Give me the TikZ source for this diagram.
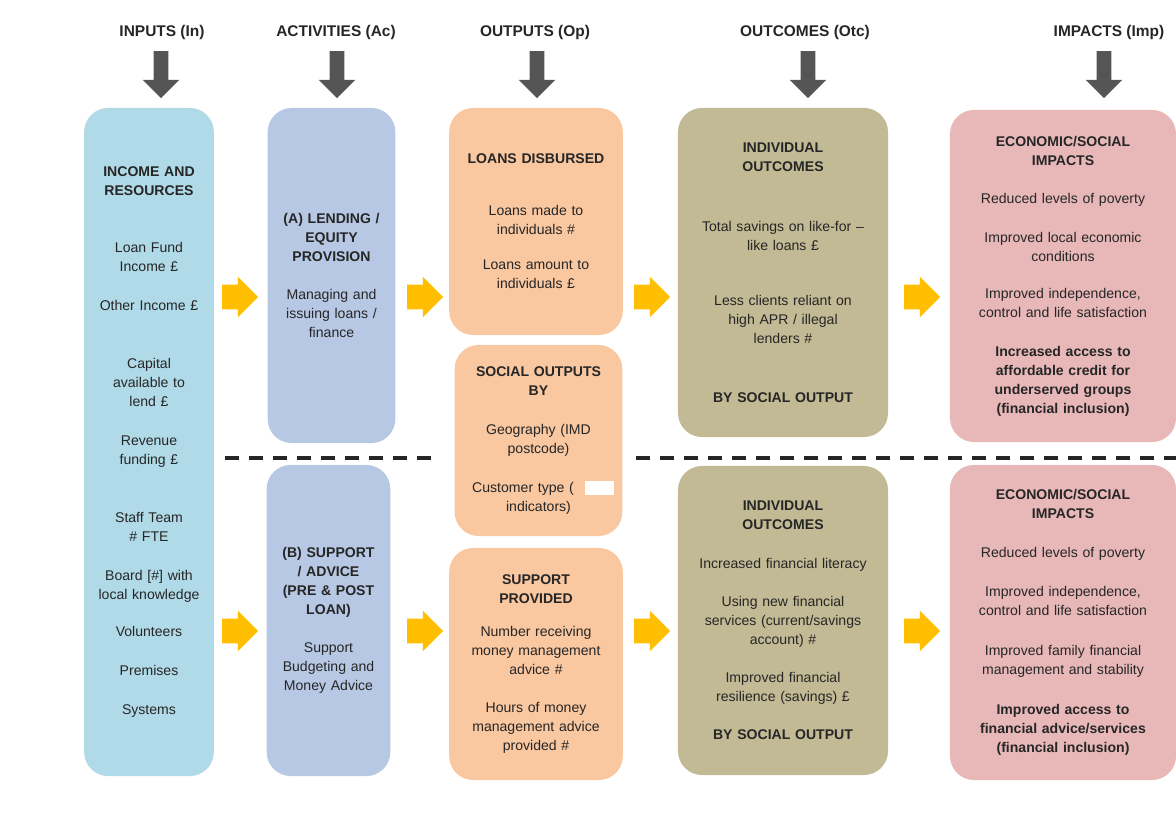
\documentclass[tikz,border=0pt]{standalone}
\usepackage{fontspec}
\setmainfont{Liberation Sans}
\usetikzlibrary{shapes.arrows, positioning}
\definecolor{txtdark}{RGB}{38,38,38}
\definecolor{inblue}{RGB}{176,218,232}
\definecolor{acblue}{RGB}{183,200,228}
\definecolor{oppeach}{RGB}{249,199,160}
\definecolor{otckhaki}{RGB}{194,186,148}
\definecolor{imppink}{RGB}{232,184,185}
\definecolor{arrowgrey}{RGB}{85,85,85}
\definecolor{flowyellow}{RGB}{255,190,0}
\tikzset{
  stage/.style={rectangle, rounded corners=0.6cm, align=center,
    text=txtdark, font=\fontsize{10}{13.5}\selectfont, inner sep=2pt},
  inbox/.style={stage, fill=inblue},
  acbox/.style={stage, fill=acblue},
  opbox/.style={stage, fill=oppeach},
  otcbox/.style={stage, fill=otckhaki},
  impbox/.style={stage, fill=imppink},
  hdr/.style={font=\bfseries\fontsize{11}{13}\selectfont, text=txtdark},
  downarrow/.style={single arrow, fill=arrowgrey, shape border rotate=270,
    minimum height=1.175cm, inner xsep=0.175cm, inner ysep=0pt,
    single arrow head extend=0.275cm},
  flowarrow/.style={single arrow, fill=flowyellow, minimum height=0.9cm,
    inner xsep=0pt, inner ysep=0.3cm, single arrow head extend=0.2cm},
  divider/.style={line width=2.5pt, dash pattern=on 0.35cm off 0.25cm,
    color=txtdark}
}
\begin{document}
\begin{tikzpicture}[x=0.025cm, y=-0.025cm]
  \path[use as bounding box, clip] (0,0) rectangle (1176,840);

  % column headers
  \node[hdr] (hin) at (162,33) {INPUTS (In)};
  \node[hdr] (hac) at (336,33) {ACTIVITIES (Ac)};
  \node[hdr] (hop) at (535,33) {OUTPUTS (Op)};
  \node[hdr] (hotc) at (805,33) {OUTCOMES (Otc)};
  \node[hdr] (himp) at (1109,33) {IMPACTS (Imp)};

  \node[downarrow] (din) at (161,71) {};
  \node[downarrow] (dac) at (337,71) {};
  \node[downarrow] (dop) at (537,71) {};
  \node[downarrow] (dotc) at (808,71) {};
  \node[downarrow] (dimp) at (1104,71) {};

  % inputs
  \node[inbox, minimum width=3.2cm, minimum height=16.7cm, text width=3.1cm] (inputs) at (149,442)
    {\textbf{INCOME AND}\\\textbf{RESOURCES}\\[27pt]
     Loan Fund\\Income £\\[14pt]
     Other Income £\\[28pt]
     Capital\\available to\\lend £\\[14pt]
     Revenue\\funding £\\[28pt]
     Staff Team\\\# FTE\\[14pt]
     Board [\#] with\\local knowledge\\[13pt]
     Volunteers\\[14pt]
     Premises\\[14pt]
     Systems};

  % activities
  \node[acbox, minimum width=3.175cm, minimum height=8.375cm, text width=3.05cm] (lending) at (331.5,275.5)
    {\textbf{(A) LENDING /}\\\textbf{EQUITY}\\\textbf{PROVISION}\\[14pt]
     Managing and\\issuing loans /\\finance};
  \node[acbox, minimum width=3.025cm, minimum height=7.775cm, text width=2.95cm] (support) at (328.5,620.5)
    {\textbf{(B) SUPPORT}\\\textbf{/ ADVICE}\\\textbf{(PRE \& POST}\\\textbf{LOAN)}\\[14pt]
     Support\\Budgeting and\\Money Advice};

  % outputs
  \node[opbox, minimum width=4.3cm, minimum height=5.675cm, text width=4.2cm] (loans) at (536,221.5)
    {\textbf{LOANS DISBURSED}\\[23pt]
     Loans made to\\individuals \#\\[12pt]
     Loans amount to\\individuals £};
  \node[opbox, minimum width=4.175cm, minimum height=4.775cm, text width=4.05cm] (social) at (538.5,440.5)
    {\textbf{SOCIAL OUTPUTS}\\\textbf{BY}\\[14pt]
     Geography (IMD\\postcode)\\[14pt]
     Customer type (\makebox[2.2em]{}\\indicators)};
  \fill[white] (585,481) rectangle (614,495);
  \node[opbox, minimum width=4.3cm, minimum height=5.8cm, text width=4.2cm] (provided) at (536,664)
    {\textbf{SUPPORT}\\\textbf{PROVIDED}\\[10pt]
     Number receiving\\money management\\advice \#\\[14pt]
     Hours of money\\management advice\\provided \#};

  % outcomes
  \node[otcbox, minimum width=5.25cm, minimum height=8.225cm, text width=5.1cm] (otctop) at (783,272.5)
    {\textbf{INDIVIDUAL}\\\textbf{OUTCOMES}\\[29pt]
     Total savings on like-for –\\like loans £\\[26pt]
     Less clients reliant on\\high APR / illegal\\lenders \#\\[28pt]
     \textbf{BY SOCIAL OUTPUT}};
  \node[otcbox, minimum width=5.25cm, minimum height=7.725cm, text width=5.1cm] (otcbot) at (783,620.5)
    {\textbf{INDIVIDUAL}\\\textbf{OUTCOMES}\\[14pt]
     Increased financial literacy\\[14pt]
     Using new financial\\services (current/savings\\account) \#\\[13pt]
     Improved financial\\resilience (savings) £\\[14pt]
     \textbf{BY SOCIAL OUTPUT}};

  % impacts
  \node[impbox, minimum width=5.65cm, minimum height=8.3cm, text width=5.5cm] (imptop) at (1063,276)
    {\textbf{ECONOMIC/SOCIAL}\\\textbf{IMPACTS}\\[14pt]
     Reduced levels of poverty\\[14pt]
     Improved local economic\\conditions\\[13pt]
     Improved independence,\\control and life satisfaction\\[14pt]
     \textbf{Increased access to}\\\textbf{affordable credit for}\\\textbf{underserved groups}\\\textbf{(financial inclusion)}};
  \node[impbox, minimum width=5.65cm, minimum height=7.875cm, text width=5.5cm] (impbot) at (1063,622.5)
    {\textbf{ECONOMIC/SOCIAL}\\\textbf{IMPACTS}\\[14pt]
     Reduced levels of poverty\\[14pt]
     Improved independence,\\control and life satisfaction\\[15pt]
     Improved family financial\\management and stability\\[15pt]
     \textbf{Improved access to}\\\textbf{financial advice/services}\\\textbf{(financial inclusion)}};

  % flow arrows
  \node[flowarrow] (fa1) at (234,297) {};
  \node[flowarrow] (fa2) at (419,297) {};
  \node[flowarrow] (fa3) at (646,297) {};
  \node[flowarrow] (fa4) at (916,297) {};
  \node[flowarrow] (fb1) at (234,631) {};
  \node[flowarrow] (fb2) at (419,631) {};
  \node[flowarrow] (fb3) at (646,631) {};
  \node[flowarrow] (fb4) at (916,631) {};

  % lending / support split
  \coordinate (splitA) at (225,458);
  \coordinate (splitB) at (440,458);
  \coordinate (splitC) at (636,458);
  \coordinate (splitD) at (1176,458);
  \draw[divider] (splitA) -- (splitB);
  \draw[divider] (splitC) -- (splitD);
\end{tikzpicture}
\end{document}
